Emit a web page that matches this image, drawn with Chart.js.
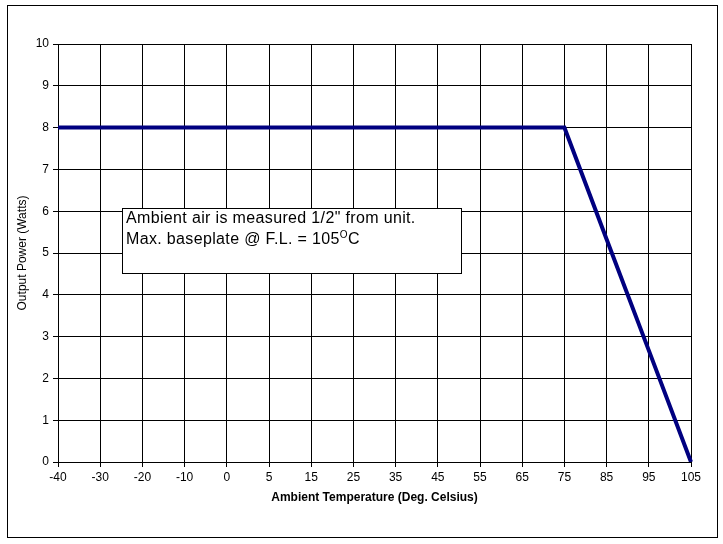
<!DOCTYPE html>
<html>
<head>
<meta charset="utf-8">
<script src="https://cdn.jsdelivr.net/npm/chart.js@4/dist/chart.umd.min.js"></script>
<style>
  html, body { margin: 0; padding: 0; background: #fff; }
  #wrap { width: 723px; height: 544px; position: relative; }
</style>
</head>
<body>
<div id="wrap"><canvas id="myChart" width="723" height="544"></canvas></div>
<script>
// ambient temperature categories (deg C) and derated output power (W)
var temps = ['-40', '-30', '-20', '-10', '0', '5', '15', '25', '35', '45', '55', '65', '75', '85', '95', '105'];
var power = [8, 8, 8, 8, 8, 8, 8, 8, 8, 8, 8, 8, 8, 5.33, 2.67, 0];
var yTicks = [0, 1, 2, 3, 4, 5, 6, 7, 8, 9, 10];

var noteLines = ['Ambient air is measured 1/2" from unit.', 'Max. baseplate @ F.L. = 105'];

var FONT = '"Liberation Sans", Arial, sans-serif';

// outer frame round the whole chart
var frame = {
  id: 'frame',
  beforeDraw: function(chart) {
    var c = chart.ctx;
    c.save();
    c.fillStyle = '#fff';
    c.fillRect(0, 0, chart.width, chart.height);
    c.strokeStyle = '#000';
    c.lineWidth = 1;
    c.strokeRect(7.5, 5.5, 710, 532);
    c.restore();
  }
};

// text box with the measurement note
var note = {
  id: 'note',
  afterDatasetsDraw: function(chart) {
    var c = chart.ctx;
    var x = 122.5, y = 208.5, w = 339, h = 65;
    c.save();
    c.fillStyle = '#fff';
    c.fillRect(x, y, w, h);
    c.strokeStyle = '#000';
    c.lineWidth = 1;
    c.strokeRect(x, y, w, h);
    c.fillStyle = '#000';
    c.textBaseline = 'alphabetic';
    c.letterSpacing = '0.35px';
    c.font = '16px ' + FONT;
    c.fillText(noteLines[0], x + 3.5, y + 14.5);
    c.fillText(noteLines[1], x + 3.5, y + 35.5);
    var wid = c.measureText(noteLines[1]).width;
    c.font = '10px ' + FONT;
    c.fillText('O', x + 3.5 + wid, y + 29.5);
    var ow = c.measureText('O').width;
    c.font = '16px ' + FONT;
    c.fillText('C', x + 3.5 + wid + ow, y + 35.5);
    c.restore();
  }
};

var ctx = document.getElementById('myChart').getContext('2d');
var myChart = new Chart(ctx, {
  type: 'line',
  data: {
    labels: temps,
    datasets: [{
      label: 'Output Power',
      data: power,
      borderColor: '#000080',
      borderWidth: 4,
      pointRadius: 0,
      tension: 0,
      fill: false
    }]
  },
  options: {
    responsive: false,
    animation: false,
    layout: { padding: { left: 0, right: 32, top: 44, bottom: 0 } },
    plugins: {
      legend: { display: false },
      tooltip: { enabled: false }
    },
    scales: {
      x: {
        type: 'category',
        offset: false,
        afterFit: function(scale) { scale.height = 82; },
        grid: { color: '#000', lineWidth: 1, tickLength: 5, drawTicks: true },
        border: { color: '#000' },
        ticks: { color: '#000', font: { family: FONT, size: 12 }, padding: 3, maxRotation: 0, autoSkip: false },
        title: {
          display: true,
          text: 'Ambient Temperature (Deg. Celsius)',
          color: '#000',
          font: { family: FONT, size: 12, weight: 'bold' },
          padding: { top: 0, bottom: 39 }
        }
      },
      y: {
        min: 0,
        max: 10,
        afterFit: function(scale) { scale.width = 58; },
        afterBuildTicks: function(scale) { scale.ticks = yTicks.map(function(v) { return { value: v }; }); },
        grid: { color: '#000', lineWidth: 1, tickLength: 5 },
        border: { color: '#000' },
        ticks: { color: '#000', font: { family: FONT, size: 12 }, padding: 4 },
        title: {
          display: true,
          text: 'Output Power (Watts)',
          color: '#000',
          font: { family: FONT, size: 12 },
          padding: { top: 15, bottom: 0 }
        }
      }
    }
  },
  plugins: [frame, note]
});
</script>
</body>
</html>
